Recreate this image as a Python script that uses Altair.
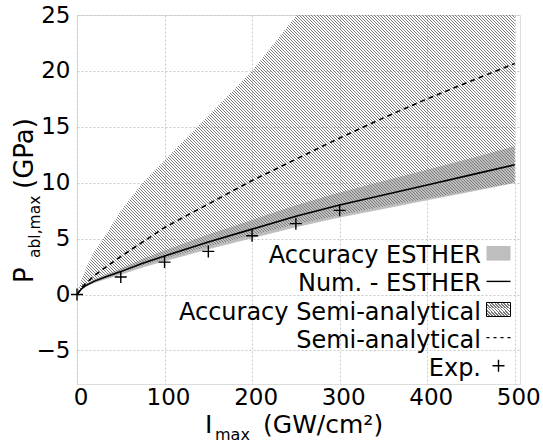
import math
import altair as alt
import pandas as pd

# ---------------- data ----------------
curve_x = [0, 5, 10, 20, 30, 50, 75, 100, 150, 200, 250, 300, 350, 400, 450, 500]
esther = [0, 0.5, 0.8, 1.2, 1.5, 2.05, 2.8, 3.45, 4.7, 5.85, 7.0, 8.0, 8.9, 9.8, 10.7, 11.6]
esther_hi = [0, 0.57, 0.91, 1.37, 1.71, 2.34, 3.19, 3.93, 5.36, 6.67, 7.98, 9.12, 10.15, 11.17, 12.2, 13.26]
esther_lo = [0, 0.43, 0.69, 1.03, 1.29, 1.76, 2.41, 2.97, 4.04, 5.03, 6.02, 6.88, 7.65, 8.43, 9.2, 9.98]
semi = [0, 0.6, 1.0, 1.7, 2.3, 3.4, 4.7, 6.0, 8.1, 10.2, 12.1, 14.0, 15.8, 17.5, 19.1, 20.66]

hatch_x = [0, 5, 10, 20, 30, 50, 75, 100, 150, 200, 251, 300, 350, 400, 450, 500]
hatch_hi = [0, 1.3, 2.3, 3.9, 5.0, 7.5, 10.0, 12.0, 16.0, 20.0, 25, 25, 25, 25, 25, 25]
hatch_lo = [0, 0.45, 0.75, 1.1, 1.4, 1.95, 2.6, 3.2, 4.3, 5.3, 6.3, 7.1, 7.9, 8.6, 9.3, 10.0]

exp_x = [0, 50, 100, 150, 200, 250, 300]
exp_y = [0, 1.57, 2.9, 3.86, 5.26, 6.34, 7.53]

x_ticks = [0, 100, 200, 300, 400, 500]
y_ticks = [-5, 0, 5, 10, 15, 20, 25]
legend_labels = ["Accuracy ESTHER", "Num. - ESTHER", "Accuracy Semi-analytical",
                 "Semi-analytical", "Exp."]

# ---------------- layout / style ----------------
FONT = "DejaVu Sans"
W, H = 443, 369
XDOM = [0, 506]
YDOM = [-8, 25]
SX = W / (XDOM[1] - XDOM[0])
SY = H / (YDOM[1] - YDOM[0])
PERIOD = 3.0 / math.sqrt(2)   # 3 px horizontal spacing of 45-degree hatch lines
FRAC = 0.36
HATCH_COLOR = "#7c7c7c"
CLEAR = "rgba(255,255,255,0)"
BAND = "#bebebe"
PLUS = "M-1,0H1M0,-1V1"


def hatch(bw, bh):
    """Diagonal hatching as a striped linear gradient over a bw x bh box."""
    t = (bw + bh) / (bw ** 2 + bh ** 2)
    span = (bw + bh) / math.sqrt(2)
    n = max(1, math.ceil(span / PERIOD))
    ext = n * PERIOD / span          # stretch so that the period is exact
    stops = []
    for k in range(n):
        a = k / n
        b = (k + FRAC) / n
        c = min(1.0, (k + 1) / n)
        stops += [
            alt.GradientStop(offset=a, color=HATCH_COLOR),
            alt.GradientStop(offset=b, color=HATCH_COLOR),
            alt.GradientStop(offset=b, color=CLEAR),
            alt.GradientStop(offset=c, color=CLEAR),
        ]
    return alt.LinearGradient(gradient="linear", stops=stops,
                              x1=0, y1=1, x2=ext * t * bw, y2=1 - ext * t * bh)


curves = pd.DataFrame({"x": curve_x, "esther": esther, "hi": esther_hi,
                       "lo": esther_lo, "semi": semi})
hatch_df = pd.DataFrame({"x": hatch_x, "hi": hatch_hi, "lo": hatch_lo})
exp_df = pd.DataFrame({"x": exp_x, "y": exp_y})

xscale = alt.Scale(domain=XDOM, nice=False, zero=False)
yscale = alt.Scale(domain=YDOM, nice=False, zero=False)

x_axis = alt.Axis(values=x_ticks, title=None, grid=True, ticks=False, domain=False,
                  labelFontSize=23, labelFont=FONT, labelColor="black",
                  labelPadding=2.5, labelOffset=3.5, labelFlush=False, labelOverlap=False,
                  gridColor="#c8c8c8", gridDash=[2, 2])
y_axis = alt.Axis(values=y_ticks, title=None, grid=True, ticks=False, domain=False,
                  labelFontSize=23, labelFont=FONT, labelColor="black",
                  labelPadding=7, labelFlush=False, labelOverlap=False,
                  gridColor="#c8c8c8", gridDash=[2, 2])

base_x = alt.X("x:Q", scale=xscale, axis=x_axis)

band = alt.Chart(curves).mark_area(color=BAND, clip=True).encode(
    x=base_x,
    y=alt.Y("lo:Q", scale=yscale, axis=y_axis),
    y2="hi:Q",
)

hb_w = (max(hatch_x) - min(hatch_x)) * SX
hb_h = (max(hatch_hi) - min(hatch_lo)) * SY
hatch_area = alt.Chart(hatch_df).mark_area(fill=hatch(hb_w, hb_h), clip=True).encode(
    x=alt.X("x:Q", scale=xscale),
    y=alt.Y("lo:Q", scale=yscale),
    y2="hi:Q",
)

esther_line = alt.Chart(curves).mark_line(color="black", strokeWidth=1.6, clip=True).encode(
    x=alt.X("x:Q", scale=xscale),
    y=alt.Y("esther:Q", scale=yscale),
)

semi_line = alt.Chart(curves).mark_line(color="black", strokeWidth=1.6,
                                         strokeDash=[5, 4], clip=True).encode(
    x=alt.X("x:Q", scale=xscale),
    y=alt.Y("semi:Q", scale=yscale),
)

exp_pts = alt.Chart(exp_df).mark_point(shape=PLUS, size=144, filled=False,
                                        stroke="black", strokeWidth=1.4,
                                        opacity=1).encode(
    x=alt.X("x:Q", scale=xscale),
    y=alt.Y("y:Q", scale=yscale),
)

layers = [band, hatch_area, esther_line, semi_line, exp_pts]

one = pd.DataFrame({"k": [0]})

# ---------------- legend (gnuplot style, inside the plot) ----------------
LEG_TEXT_X = 404
SYM_X1, SYM_X2 = 409.5, 433.5
SYM_XC = (SYM_X1 + SYM_X2) / 2
ROW0 = 248.3
ROWSTEP = 28.1
for i, lab in enumerate(legend_labels):
    layers.append(
        alt.Chart(pd.DataFrame({"label": [lab]})).mark_text(
            align="right", baseline="alphabetic", fontSize=24, font=FONT, color="black"
        ).encode(text="label:N", x=alt.value(LEG_TEXT_X), y=alt.value(ROW0 + ROWSTEP * i))
    )


def sym_y(i):
    return ROW0 + ROWSTEP * i - 10


# gray box
layers.append(alt.Chart(one).mark_rect(color=BAND).encode(
    x=alt.value(SYM_X1), x2=alt.value(SYM_X2),
    y=alt.value(sym_y(0) - 7.3), y2=alt.value(sym_y(0) + 7.3)))
# solid line
layers.append(alt.Chart(one).mark_rule(color="black", strokeWidth=1.4).encode(
    x=alt.value(SYM_X1), x2=alt.value(SYM_X2), y=alt.value(sym_y(1))))
# hatched box
layers.append(alt.Chart(one).mark_rect(fill=hatch(SYM_X2 - SYM_X1, 14), stroke="black",
                                       strokeWidth=1).encode(
    x=alt.value(SYM_X1), x2=alt.value(SYM_X2),
    y=alt.value(sym_y(2) - 7), y2=alt.value(sym_y(2) + 7)))
# dashed line
layers.append(alt.Chart(one).mark_rule(color="black", strokeWidth=1.3, strokeDash=[3, 4]).encode(
    x=alt.value(SYM_X1), x2=alt.value(SYM_X2), y=alt.value(sym_y(3))))
# plus
layers.append(alt.Chart(one).mark_point(shape=PLUS, size=144, filled=False, stroke="black",
                                        strokeWidth=1.4, opacity=1).encode(
    x=alt.value(SYM_XC), y=alt.value(sym_y(4))))


# ---------------- axis titles with subscripts ----------------
def txt(s, x, y, size, angle=0):
    props = dict(align="left", baseline="alphabetic", fontSize=size, font=FONT, color="black")
    if angle:
        props["angle"] = angle
    return alt.Chart(pd.DataFrame({"t": [s]})).mark_text(**props).encode(
        text="t:N", x=alt.value(x), y=alt.value(y))


layers += [
    txt("P", -44, 268, 26, 270),
    txt("abl,max", -37, 243, 15.5, 270),
    txt("(GPa)", -44, 174, 26, 270),
    txt("I", 128, 418.3, 25),
    txt("max", 138, 425, 16),
    txt("(GW/cm²)", 186, 418.3, 25),
]

chart = alt.layer(*layers).properties(
    width=W, height=H,
    padding={"left": 77, "top": 15, "right": 23, "bottom": 64},
    autosize=alt.AutoSizeParams(type="none"),
).configure_view(stroke="#555555", strokeWidth=1).configure(font=FONT)

chart.save("out.html", embed_options={"renderer": "svg", "actions": False})
